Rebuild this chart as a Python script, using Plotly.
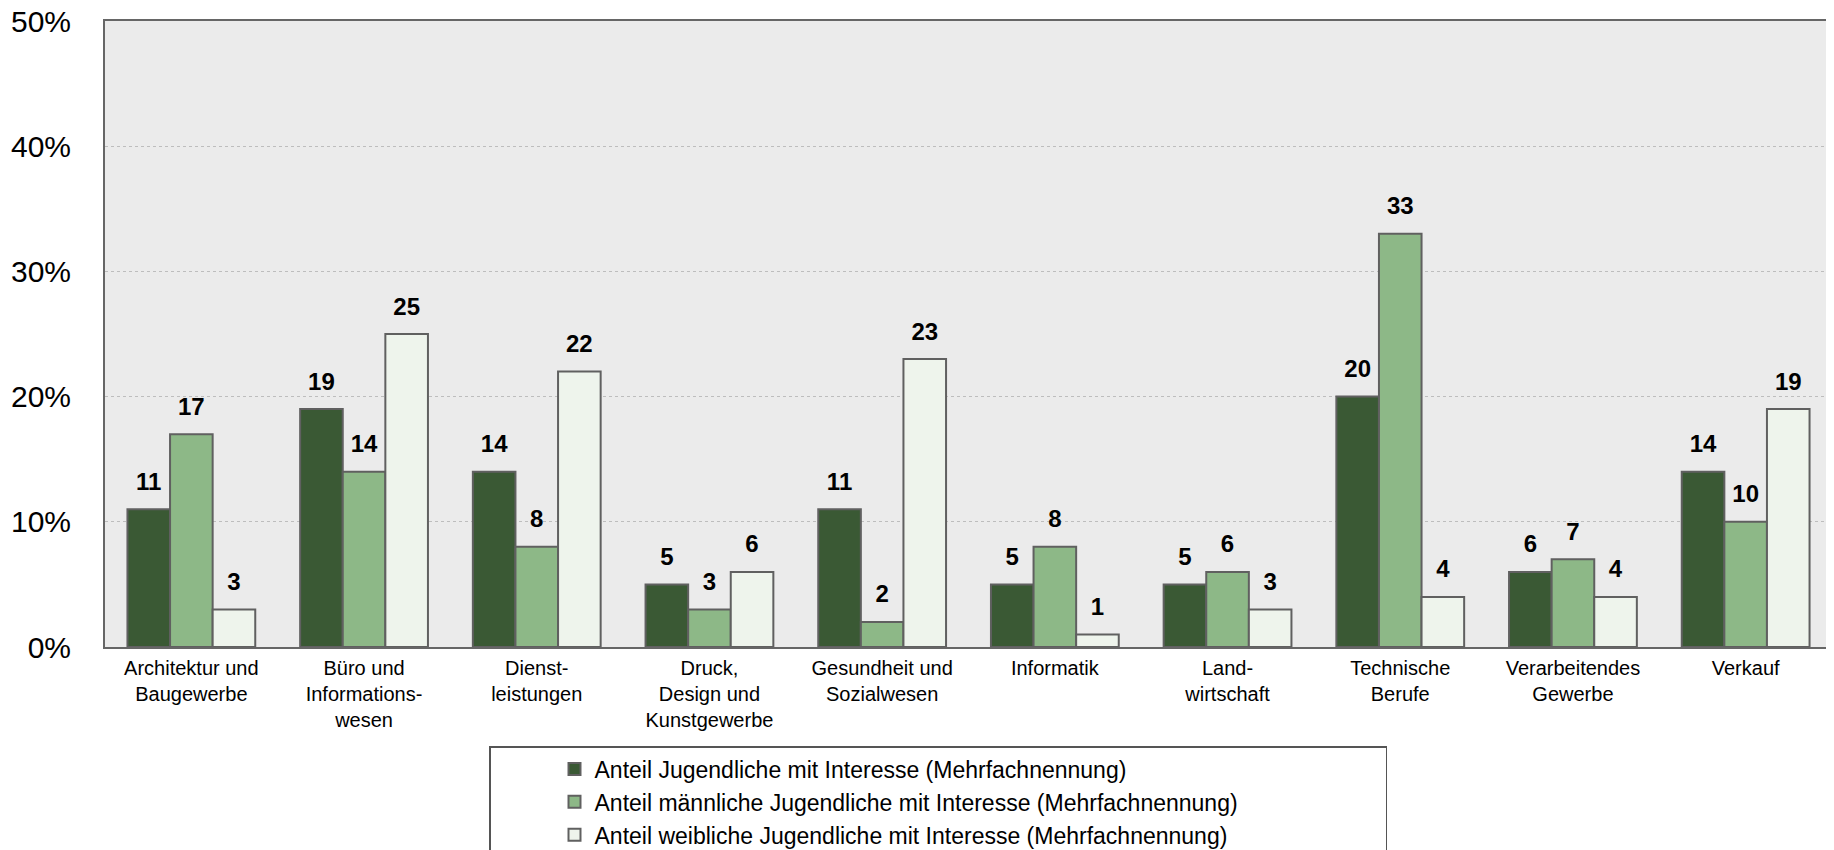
import plotly.graph_objects as go

categories = [
    "Architektur und<br>Baugewerbe",
    "Büro und<br>Informations-<br>wesen",
    "Dienst-<br>leistungen",
    "Druck,<br>Design und<br>Kunstgewerbe",
    "Gesundheit und<br>Sozialwesen",
    "Informatik",
    "Land-<br>wirtschaft",
    "Technische<br>Berufe",
    "Verarbeitendes<br>Gewerbe",
    "Verkauf",
]
anteil_alle = [11, 19, 14, 5, 11, 5, 5, 20, 6, 14]
anteil_maennlich = [17, 14, 8, 3, 2, 8, 6, 33, 7, 10]
anteil_weiblich = [3, 25, 22, 6, 23, 1, 3, 4, 4, 19]

series_names = [
    "Anteil Jugendliche mit Interesse (Mehrfachnennung)",
    "Anteil männliche Jugendliche mit Interesse (Mehrfachnennung)",
    "Anteil weibliche Jugendliche mit Interesse (Mehrfachnennung)",
]
series_values = [anteil_alle, anteil_maennlich, anteil_weiblich]
series_colors = ["#3a5934", "#8db887", "#eef4ec"]

y_ticks = [0, 10, 20, 30, 40, 50]
y_ticktext = [f"{v}%" for v in y_ticks]

FONT = "Liberation Sans, Arial, sans-serif"
GAP = 0.26

fig = go.Figure()
for name, vals, col in zip(series_names, series_values, series_colors):
    fig.add_trace(go.Bar(
        x=categories, y=vals, name=name,
        marker=dict(color=col, line=dict(color="#606060", width=2)),
        hoverinfo="skip",
    ))
for name, vals in zip(series_names, series_values):
    fig.add_trace(go.Scatter(
        x=categories, y=vals, mode="markers+text", orientation="v",
        text=[f"<b>{v}</b>" for v in vals], textposition="top center",
        textfont=dict(family=FONT, size=24, color="#000000"),
        marker=dict(size=20, opacity=0), showlegend=False, hoverinfo="skip",
        cliponaxis=False,
    ))

# page body has an 8px default margin; margins compensate so the plot area
# sits at the same place in the browser window as in the reference
fig.update_layout(
    width=1834, height=850,
    margin=dict(l=97, r=10, t=13, b=211, autoexpand=False),
    paper_bgcolor="white", plot_bgcolor="#ebebeb",
    barmode="group", bargap=GAP, bargroupgap=0,
    scattermode="group", scattergap=GAP,
    font=dict(family=FONT, color="#000000"),
    legend=dict(
        orientation="h", entrywidth=786, entrywidthmode="pixels",
        x=(489 - 105) / 1727, y=(647 - 746) / 626, xanchor="left", yanchor="top",
        font=dict(family=FONT, size=23, color="#000000"),
        bgcolor="white", bordercolor="#555555", borderwidth=1.5,
        indentation=64,
    ),
    xaxis=dict(
        showline=True, linecolor="#666666", linewidth=2, mirror=True,
        showgrid=False, ticks="", tickfont=dict(size=20, family=FONT, color="#000000"),
        ticklabelstandoff=2,
    ),
    yaxis=dict(
        range=[0, 50], tickvals=y_ticks, ticktext=y_ticktext,
        showline=True, linecolor="#666666", linewidth=2, mirror=True,
        showgrid=True, gridcolor="#bdbdbd", griddash="dot", gridwidth=1,
        zeroline=False, ticks="", ticklabelstandoff=26, ticklabeloverflow="allow",
        tickfont=dict(size=30, family=FONT, color="#000000"),
    ),
)

fig.write_html("out.html")
